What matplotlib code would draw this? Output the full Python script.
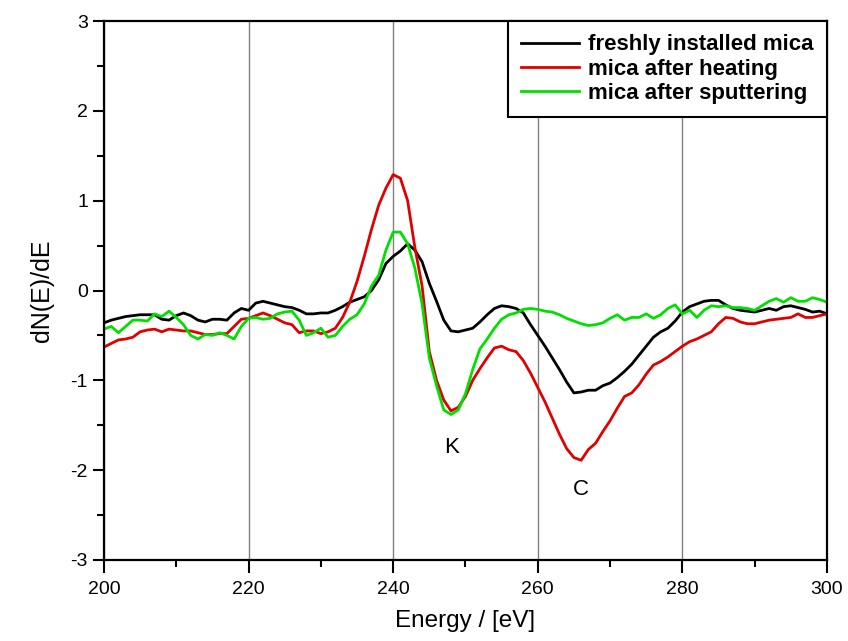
import numpy as np
import matplotlib
matplotlib.use("Agg")
from matplotlib import pyplot as plt
from matplotlib.ticker import MultipleLocator

energy = np.arange(200, 301, 1)

fresh = [-0.36, -0.33, -0.31, -0.29, -0.28, -0.27, -0.27, -0.27, -0.32, -0.33,
         -0.28, -0.25, -0.28, -0.33, -0.35, -0.32, -0.32, -0.33, -0.25, -0.20,
         -0.22, -0.14, -0.12, -0.14, -0.16, -0.18, -0.19, -0.22, -0.26, -0.26,
         -0.25, -0.25, -0.22, -0.18, -0.13, -0.10, -0.07, 0.00, 0.12, 0.30,
         0.38, 0.44, 0.52, 0.45, 0.32, 0.08, -0.12, -0.33, -0.45, -0.46,
         -0.44, -0.42, -0.35, -0.27, -0.20, -0.17, -0.18, -0.20, -0.25, -0.38,
         -0.50, -0.62, -0.75, -0.88, -1.02, -1.14, -1.13, -1.11, -1.11, -1.06,
         -1.03, -0.97, -0.90, -0.82, -0.72, -0.62, -0.52, -0.46, -0.42, -0.34,
         -0.24, -0.18, -0.15, -0.12, -0.11, -0.11, -0.16, -0.20, -0.22, -0.23,
         -0.24, -0.22, -0.20, -0.22, -0.18, -0.17, -0.19, -0.21, -0.24, -0.23,
         -0.26]

heated = [-0.63, -0.59, -0.55, -0.54, -0.52, -0.46, -0.44, -0.43, -0.46, -0.43,
          -0.44, -0.45, -0.45, -0.47, -0.49, -0.49, -0.48, -0.48, -0.40, -0.32,
          -0.31, -0.28, -0.25, -0.28, -0.32, -0.36, -0.38, -0.47, -0.45, -0.45,
          -0.48, -0.46, -0.42, -0.30, -0.13, 0.10, 0.38, 0.68, 0.95, 1.14,
          1.29, 1.25, 1.00, 0.48, 0.05, -0.68, -1.00, -1.22, -1.34, -1.30,
          -1.18, -1.00, -0.87, -0.75, -0.64, -0.62, -0.66, -0.68, -0.78, -0.92,
          -1.08, -1.24, -1.42, -1.60, -1.76, -1.86, -1.89, -1.77, -1.70, -1.57,
          -1.45, -1.31, -1.18, -1.14, -1.05, -0.93, -0.83, -0.79, -0.74, -0.68,
          -0.62, -0.57, -0.54, -0.50, -0.46, -0.37, -0.30, -0.31, -0.35, -0.37,
          -0.37, -0.35, -0.33, -0.32, -0.31, -0.30, -0.26, -0.30, -0.30, -0.28,
          -0.26]

sputtered = [-0.43, -0.40, -0.47, -0.40, -0.33, -0.33, -0.34, -0.26, -0.29, -0.23,
             -0.30, -0.38, -0.50, -0.54, -0.49, -0.50, -0.47, -0.50, -0.54, -0.40,
             -0.31, -0.30, -0.32, -0.31, -0.26, -0.24, -0.23, -0.33, -0.50, -0.47,
             -0.42, -0.52, -0.50, -0.40, -0.32, -0.27, -0.15, 0.05, 0.17, 0.45,
             0.65, 0.65, 0.52, 0.25, -0.15, -0.75, -1.06, -1.33, -1.38, -1.33,
             -1.15, -0.88, -0.65, -0.54, -0.42, -0.32, -0.27, -0.25, -0.21, -0.20,
             -0.21, -0.23, -0.24, -0.27, -0.31, -0.34, -0.37, -0.39, -0.38, -0.36,
             -0.31, -0.27, -0.33, -0.30, -0.30, -0.26, -0.31, -0.27, -0.20, -0.16,
             -0.26, -0.22, -0.30, -0.22, -0.17, -0.18, -0.17, -0.19, -0.19, -0.20,
             -0.22, -0.17, -0.12, -0.09, -0.13, -0.08, -0.12, -0.12, -0.08, -0.10,
             -0.13]

series_names = ["freshly installed mica", "mica after heating", "mica after sputtering"]
series_colors = ["#000000", "#e00000", "#00e000"]

peak_labels = ["K", "C"]
peak_pos = [(248.1, -1.75), (266.0, -2.22)]

plt.rcParams['font.family'] = ['Liberation Sans', 'DejaVu Sans']
plt.rcParams['axes.unicode_minus'] = False

fig = plt.figure(figsize=(8.48, 6.41), dpi=100)
ax = fig.add_axes([0.1226, 0.1264, 0.8526, 0.8408])

for vals, name, col in zip([fresh, heated, sputtered], series_names, series_colors):
    ax.plot(energy, vals, color=col, lw=2, label=name)

for lab, (px, py) in zip(peak_labels, peak_pos):
    ax.text(px, py, lab, fontsize=16, ha='center', va='center')

ax.set_xlim(200, 300)
ax.set_ylim(-3, 3)
ax.xaxis.set_major_locator(MultipleLocator(20))
ax.xaxis.set_minor_locator(MultipleLocator(10))
ax.yaxis.set_major_locator(MultipleLocator(1))
ax.yaxis.set_minor_locator(MultipleLocator(0.5))
ax.tick_params(which='major', direction='out', length=8, width=1.5, labelsize=14)
ax.tick_params(which='minor', direction='out', length=5, width=1.5)
ax.tick_params(axis='x', which='major', length=9, pad=6)
ax.grid(axis='x', which='major', color='#808080', lw=1)
for sp in ax.spines.values():
    sp.set_linewidth(1.6)

ax.set_xlabel("Energy / [eV]", fontsize=17.5, labelpad=9)
ax.set_ylabel("dN(E)/dE", fontsize=18, labelpad=12)

leg = ax.legend(loc='upper right', fancybox=False, edgecolor='black', framealpha=1,
                prop={'weight': 'bold', 'size': 16}, borderaxespad=0,
                handlelength=2.6, handletextpad=0.4, labelspacing=0.15,
                borderpad=0.6)
leg.get_frame().set_linewidth(1.5)

plt.savefig("out.png", dpi=100)
